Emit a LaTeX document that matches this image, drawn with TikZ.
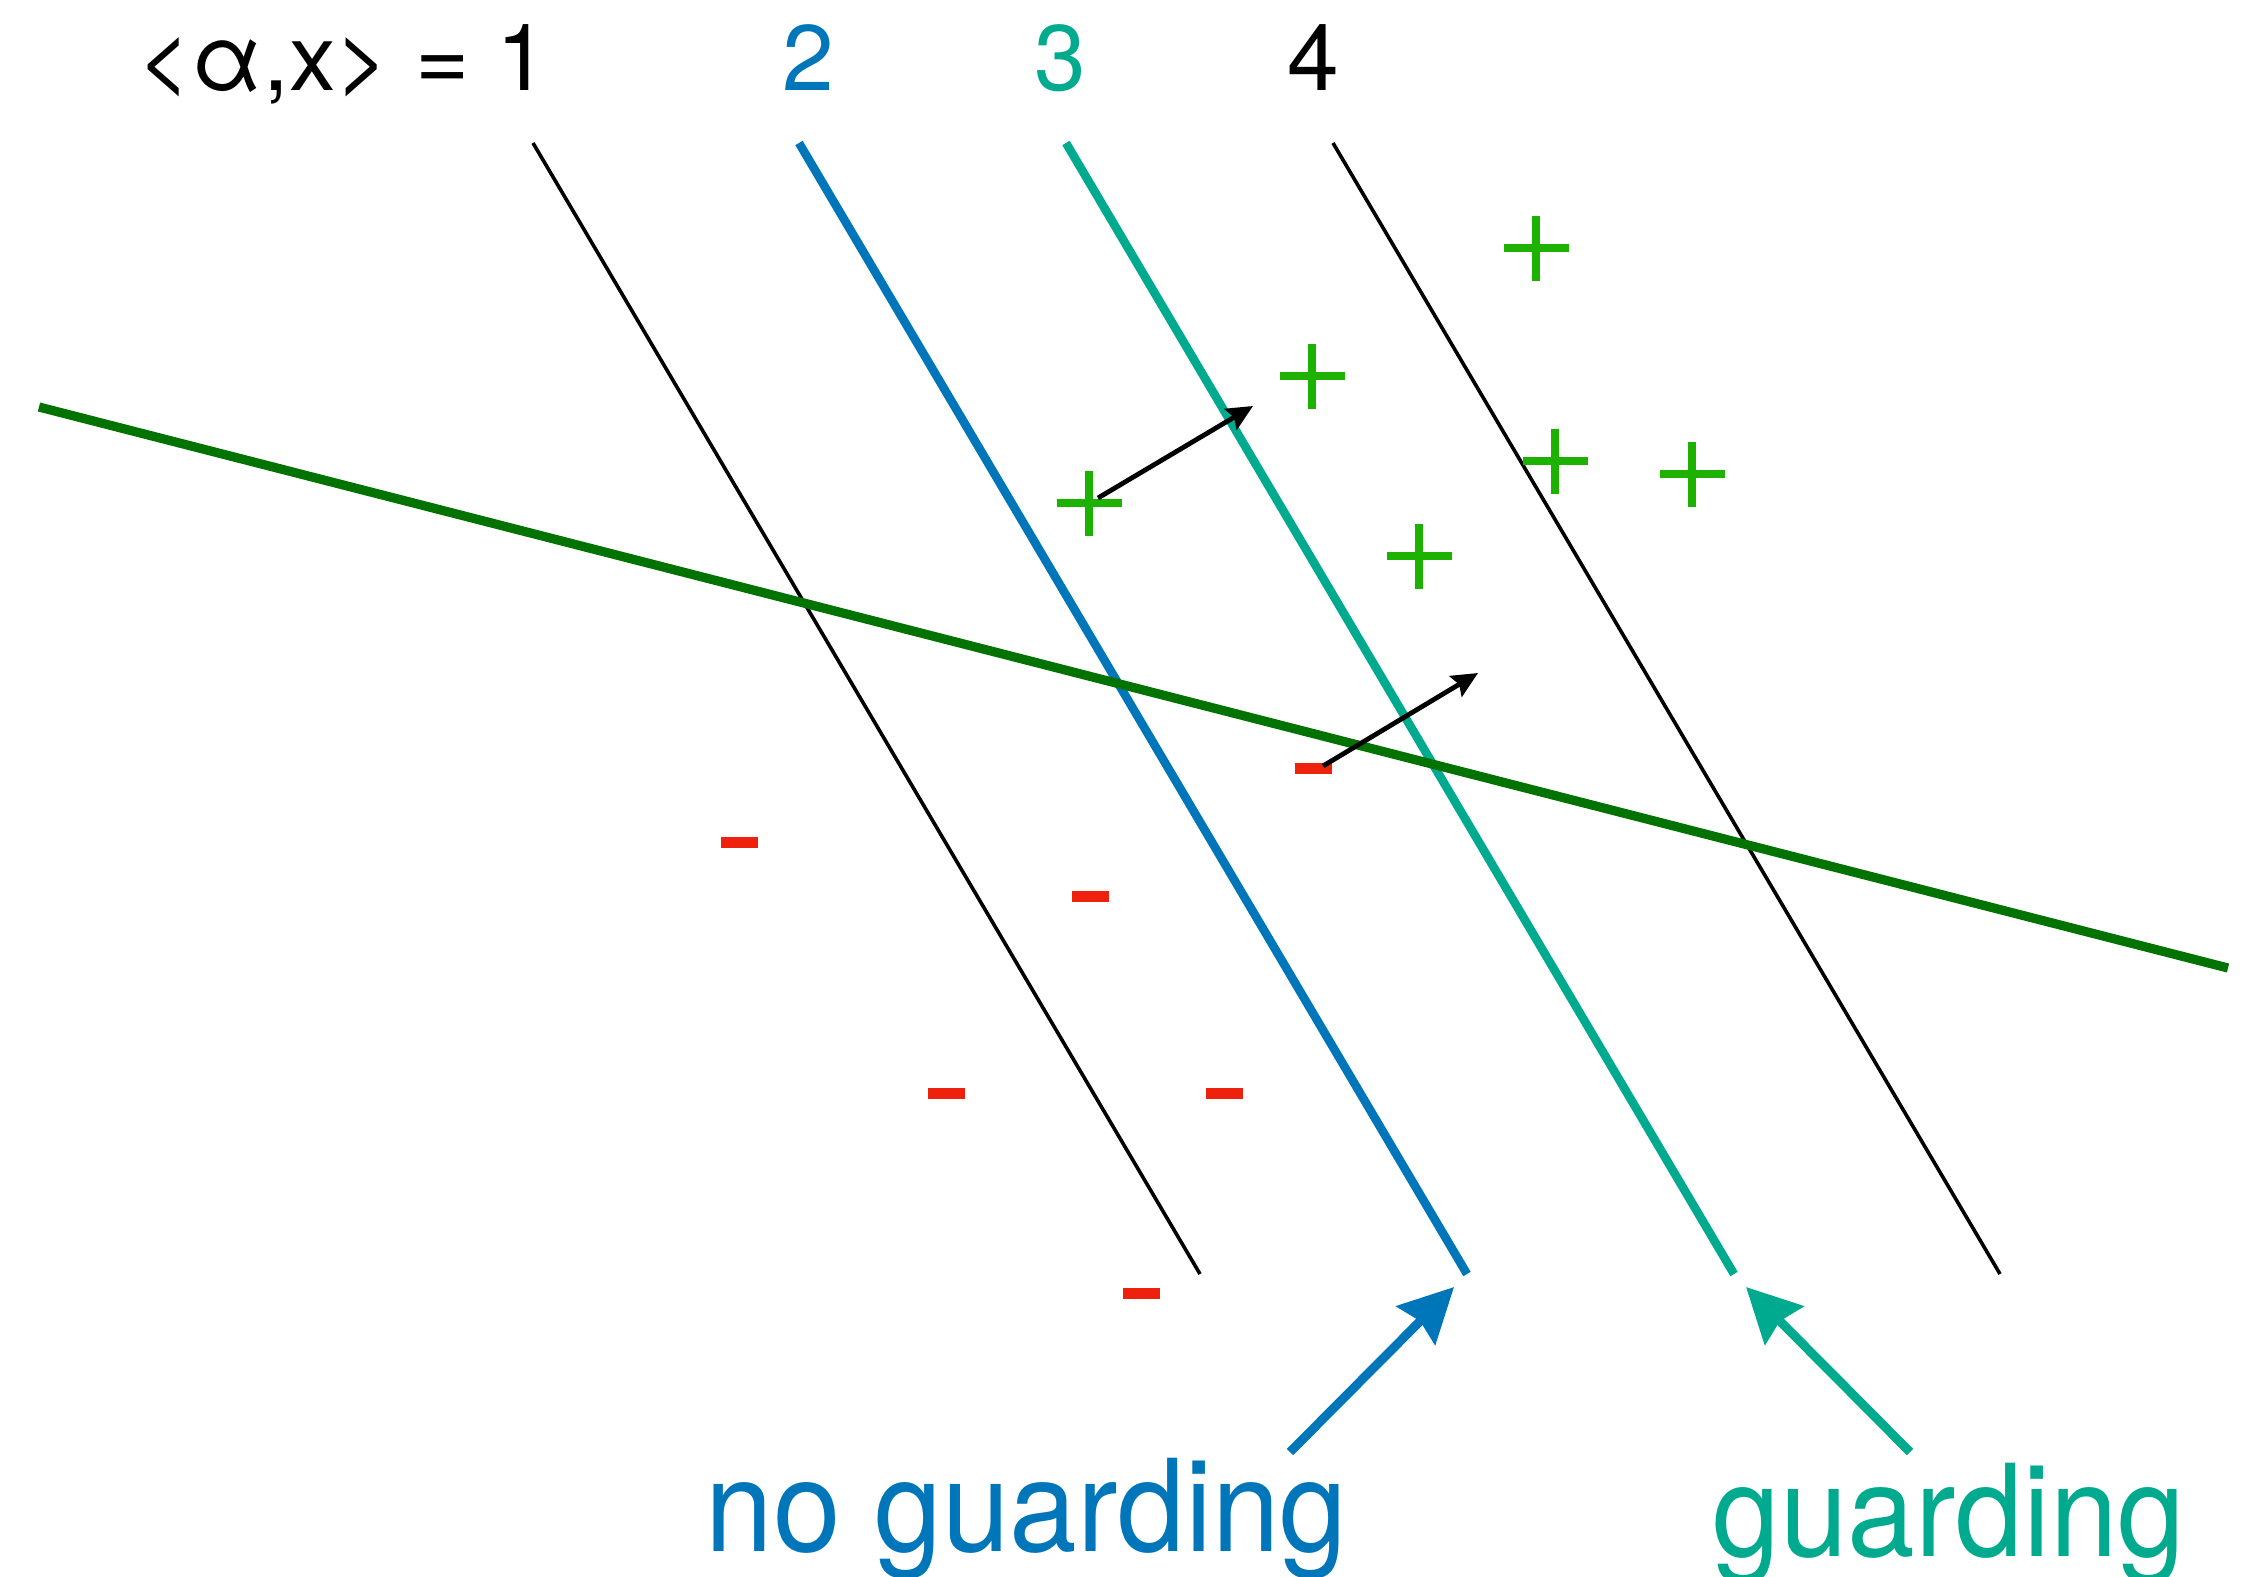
\documentclass[tikz,border=0pt]{standalone}
\usepackage{fontspec}
\setmainfont{TeX Gyre Heros}
\newfontfamily\bigfont{TeX Gyre Heros}[FakeStretch=0.95]
\usetikzlibrary{arrows.meta}
\definecolor{kblue}{RGB}{0,118,186}
\definecolor{kteal}{RGB}{0,170,142}
\definecolor{kdgreen}{RGB}{2,115,0}
\definecolor{kgreen}{RGB}{29,177,0}
\definecolor{kred}{RGB}{238,34,12}
\tikzset{
  thinline/.style={black, line width=1.8pt},
  thickline/.style={line width=4.3pt},
  sepline/.style={kdgreen, line width=4.6pt},
  vec/.style={black, line width=2.4pt, -{Stealth[length=13pt,width=12pt,inset=2pt]}},
  bigarrow/.style={line width=4.5pt, -{Stealth[length=27pt,width=27pt,inset=3pt]}},
  toplab/.style={inner sep=0pt, font=\fontsize{46.5}{50}\selectfont},
  botlab/.style={inner sep=0pt, anchor=base west, font=\bigfont\fontsize{64}{70}\selectfont},
  plusmark/.pic={\draw[kgreen, line width=4pt] (-32.5,0) -- (32.5,0) (0,-32.5) -- (0,32.5);},
  minusmark/.pic={\fill[kred] (-18.5,-5.5) rectangle (18.5,5.5);}
}
\begin{document}
\begin{tikzpicture}[x=0.5pt,y=-0.5pt]
\useasboundingbox (0,0) rectangle (2258,1576);
% level lines
\coordinate (l1a) at (533,143);  \coordinate (l1b) at (1200,1274);
\coordinate (l2a) at (799,143);  \coordinate (l2b) at (1467,1274);
\coordinate (l3a) at (1066,143); \coordinate (l3b) at (1734,1274);
\coordinate (l4a) at (1333,143); \coordinate (l4b) at (2000,1274);
\coordinate (ga) at (39,407);    \coordinate (gb) at (2228,968);
\draw[thinline] (l1a) -- (l1b);
\draw[thickline, kblue] (l2a) -- (l2b);
\draw[thickline, kteal] (l3a) -- (l3b);
\draw[thinline] (l4a) -- (l4b);
\draw[sepline] (ga) -- (gb);
% labels
\node[toplab, anchor=base west] (lab1) at (137,90) {<α,x> = 1};
\node[toplab, anchor=base, text=kblue] (lab2) at (808,90) {2};
\node[toplab, anchor=base, text=kteal] (lab3) at (1060,90) {3};
\node[toplab, anchor=base] (lab4) at (1313,90) {4};
% plus points
\coordinate (p1) at (1536,248);
\coordinate (p2) at (1312,376);
\coordinate (p3) at (1555,461);
\coordinate (p4) at (1692,474);
\coordinate (p5) at (1089,503);
\coordinate (p6) at (1419,556);
\foreach \p in {p1,p2,p3,p4,p5,p6} \pic at (\p) {plusmark};
% minus points
\coordinate (m1) at (739,842);
\coordinate (m2) at (1090,896);
\coordinate (m3) at (1313,768);
\coordinate (m4) at (946,1093);
\coordinate (m5) at (1224,1093);
\coordinate (m6) at (1141,1293);
\foreach \m in {m1,m2,m3,m4,m5,m6} \pic at (\m) {minusmark};
% small vectors
\coordinate (v1s) at (1098,498); \coordinate (v1e) at (1253,406);
\coordinate (v2s) at (1323,766); \coordinate (v2e) at (1478,673);
\draw[vec] (v1s) -- (v1e);
\draw[vec] (v2s) -- (v2e);
% bottom labels and arrows
\node[botlab, text=kblue] (ng) at (705,1551) {no guarding};
\node[botlab, text=kteal] (gd) at (1712,1556) {guarding};
\coordinate (bs) at (1290,1452); \coordinate (bt) at (1454,1287);
\coordinate (ts) at (1910,1452); \coordinate (tt) at (1746,1287);
\draw[bigarrow, kblue] (bs) -- (bt);
\draw[bigarrow, kteal] (ts) -- (tt);
\end{tikzpicture}
\end{document}
